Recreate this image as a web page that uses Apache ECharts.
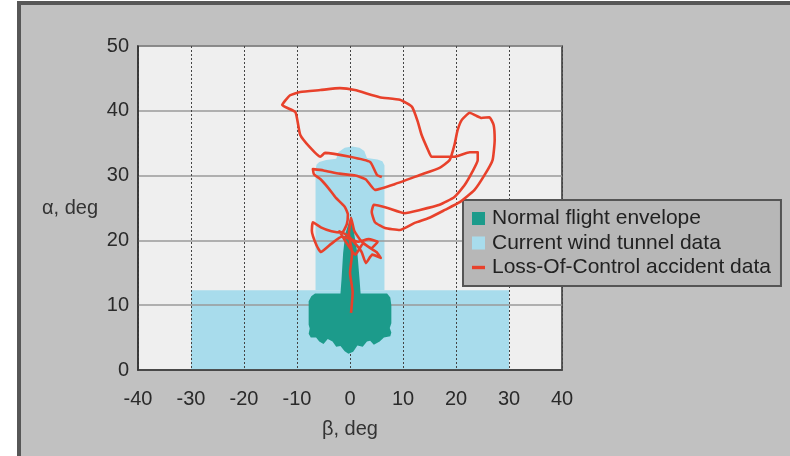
<!DOCTYPE html>
<html><head><meta charset="utf-8">
<script src="https://cdn.jsdelivr.net/npm/echarts@6/dist/echarts.min.js"></script>
<style>html,body{margin:0;padding:0;background:#fff}#c{width:790px;height:456px}</style>
</head><body><div id="c"></div>
<script>
// ---- data ----
const seriesNames = ['Normal flight envelope', 'Current wind tunnel data', 'Loss-Of-Control accident data'];
const xName = 'β, deg';
const yName = 'α, deg';
const xMin = -40, xMax = 40, xStep = 10;
const yMin = 0, yMax = 50, yStep = 10;

// wind tunnel data region (beta, alpha)
const windTunnelLow = [[-30, 0], [30, 0], [30, 12.3], [-30, 12.3]];
const windTunnelColumn = [[-6.5, 12.3], [6.5, 12.3], [6.5, 31.6], [6.1, 32.2], [5.2, 32.5], [3.2, 32.7], [2.7, 33.8], [1.8, 34.3], [0.4, 34.5], [-1.0, 34.3], [-2.2, 33.6], [-2.6, 32.6], [-4.5, 32.4], [-5.8, 32.1], [-6.3, 31.7], [-6.5, 31.0]];

// normal flight envelope (beta, alpha)
const normalEnvelope = [[0.2, 23.8], [0.8, 21], [1.4, 18], [1.8, 14], [2.0, 11.8], [7.0, 11.8], [7.6, 11.2], [7.8, 10], [7.8, 7.2], [7.5, 6.5], [7.8, 5.8], [7.6, 5.2], [6.4, 5.0], [5.6, 4.4], [4.5, 3.9], [3.8, 4.5], [3.2, 4.4], [2.4, 3.6], [1.4, 3.8], [0.6, 2.8], [-0.3, 2.5], [-1.0, 2.9], [-1.8, 3.7], [-2.6, 3.6], [-3.3, 4.4], [-4.2, 4.8], [-5.0, 4.0], [-5.8, 4.4], [-6.4, 5.0], [-7.4, 5.0], [-7.8, 5.6], [-7.6, 6.4], [-7.8, 7.0], [-7.8, 10.6], [-7.3, 11.4], [-6.6, 11.8], [-1.8, 11.8], [-1.6, 14], [-1.3, 18], [-0.9, 21]];

// loss-of-control accident trajectory (beta, alpha)
const locTrajectory = [
  [0.2, 8.8], [0.5, 12], [0.0, 15], [0.4, 18], [-0.2, 21], [0.2, 23.5], [0.8, 21.5], [2.0, 20], [3.5, 19], [5.0, 18.2], [5.8, 17.3], [4.2, 17.8], [3.0, 16.5], [2.2, 18.2], [1.0, 19.5], [-0.5, 20.8], [-2.0, 21.4], [-0.8, 19.8], [1.0, 17.8], [2.5, 19.5], [4.0, 18.8], [5.2, 19.8], [3.5, 20.2], [1.5, 19.8], [-1.5, 20.6],
  [-3.5, 19.5], [-5.5, 18.2], [-6.3, 19.2], [-7.2, 21.5], [-7.0, 22.8], [-5.5, 22], [-3.5, 21.4], [-1.5, 21.2],
  [-0.6, 22.5], [-0.4, 24], [-1.0, 25.2], [-2.7, 26.6], [-4.0, 28], [-5.5, 29.4], [-6.8, 30.2], [-7.0, 31], [-5.0, 30.8], [-2.0, 30.3], [1.0, 30.0], [3.0, 29.4], [4.7, 27.8],
  [8.5, 28.7], [13.2, 30.1], [16.9, 31.2], [18.8, 32.4], [19.7, 34.7], [20.3, 37.0], [21.1, 38.6], [22.6, 39.7], [23.9, 39.2], [24.8, 38.9], [26.3, 39.0], [27.1, 37.8], [27.3, 35.5], [26.9, 32.4], [25.4, 30.1], [23.5, 27.8], [20.7, 25.9], [17.9, 24.7], [15.0, 23.5], [12.2, 22.7], [9.4, 21.6], [6.6, 21.9], [4.7, 22.8], [4.1, 24.4], [4.5, 25.5],
  [7.1, 25.0], [10.3, 24.2], [13.2, 24.7], [16.9, 25.5], [19.7, 26.7], [21.6, 28.5], [23.1, 30.6], [24.1, 32.4], [24.1, 33.6], [22.6, 33.6], [19.7, 32.9], [15.4, 32.9],
  [14.7, 34.0], [13.5, 36.3], [12.8, 38.3], [11.7, 40.6], [9.4, 41.7], [5.6, 42.1], [0.9, 43.2], [-1.9, 43.5], [-5.6, 43.2], [-9.4, 42.9], [-11.3, 42.4], [-12.8, 40.9],
  [-10.3, 39.8], [-9.4, 36.3], [-7.5, 34.3], [-5.6, 32.9], [-4.7, 33.5], [0.0, 32.9], [3.8, 32.1], [5.1, 30.1], [6.0, 29.8]
];

// ---- chart ----
const FONT = '"Liberation Sans", Arial, sans-serif';
function polyRender(points) {
  return function (params, api) {
    if (params.dataIndex !== 0) return null;
    return {
      type: 'polygon',
      shape: { points: points.map(p => api.coord(p)) },
      style: { fill: api.visual('color') }
    };
  };
}

const chart = echarts.init(document.getElementById('c'), null, { renderer: 'canvas' });
chart.setOption({
  animation: false,
  backgroundColor: '#ffffff',
  graphic: [{
    type: 'rect', z: -10, silent: true,
    shape: { x: 19, y: 3, width: 800, height: 470 },
    style: { fill: '#c1c1c1', stroke: '#575757', lineWidth: 4 }
  }],
  grid: {
    left: 138, right: 228, top: 46, bottom: 86,
    show: true, backgroundColor: '#efefef', borderColor: '#333', borderWidth: 1.5
  },
  legend: {
    left: 463, top: 200, orient: 'vertical',
    backgroundColor: '#b7b7b7', borderColor: '#555', borderWidth: 2, borderRadius: 0,
    padding: [8, 10, 8, 9],
    itemWidth: 13, itemHeight: 13, itemGap: 3.5,
    textStyle: { fontFamily: FONT, fontSize: 21, color: '#222', lineHeight: 20, padding: [0, 0, 0, 2] },
    data: [
      { name: seriesNames[0], icon: 'rect' },
      { name: seriesNames[1], icon: 'rect' },
      { name: seriesNames[2], icon: 'path://M0,0L10,0L10,2.6L0,2.6Z' }
    ],
    selectedMode: false
  },
  xAxis: {
    type: 'value', min: xMin, max: xMax, interval: xStep, z: 3,
    name: xName, nameLocation: 'middle', nameGap: 49,
    nameTextStyle: { fontFamily: FONT, fontSize: 20, color: '#333' },
    axisLine: { show: true, onZero: false, lineStyle: { color: '#333', width: 1.5 } },
    axisTick: { show: false },
    axisLabel: { fontFamily: FONT, fontSize: 20, color: '#2a2a2a', margin: 19 },
    splitLine: { show: true, lineStyle: { color: '#444', type: [2, 2], width: 1 } }
  },
  yAxis: {
    type: 'value', min: yMin, max: yMax, interval: yStep, z: 3,
    name: yName, nameLocation: 'middle', nameGap: 40, nameRotate: 0,
    nameTextStyle: { fontFamily: FONT, fontSize: 20, color: '#333', align: 'right' },
    axisLine: { show: true, onZero: false, lineStyle: { color: '#333', width: 1.5 } },
    axisTick: { show: false },
    axisLabel: { fontFamily: FONT, fontSize: 20, color: '#2a2a2a', margin: 9 },
    splitLine: { show: true, lineStyle: { color: '#9a9a9a', width: 1.6 } }
  },
  series: [
    {
      name: seriesNames[1], type: 'custom', z: 1, silent: true,
      itemStyle: { color: '#a8dcec' },
      renderItem: polyRender(windTunnelLow),
      encode: { x: 0, y: 1 }, data: windTunnelLow
    },
    {
      name: seriesNames[1], type: 'custom', z: 1, silent: true,
      itemStyle: { color: '#a8dcec' },
      renderItem: polyRender(windTunnelColumn),
      encode: { x: 0, y: 1 }, data: windTunnelColumn
    },
    {
      name: seriesNames[0], type: 'custom', z: 4, silent: true,
      itemStyle: { color: '#1c9b8b' },
      renderItem: polyRender(normalEnvelope),
      encode: { x: 0, y: 1 }, data: normalEnvelope
    },
    {
      name: seriesNames[2], type: 'line', z: 5, silent: true,
      symbol: 'none', smooth: 0.15,
      itemStyle: { color: '#e8412b' },
      lineStyle: { color: '#e8412b', width: 2.6, join: 'round' },
      data: locTrajectory
    }
  ]
});
</script>
</body></html>
